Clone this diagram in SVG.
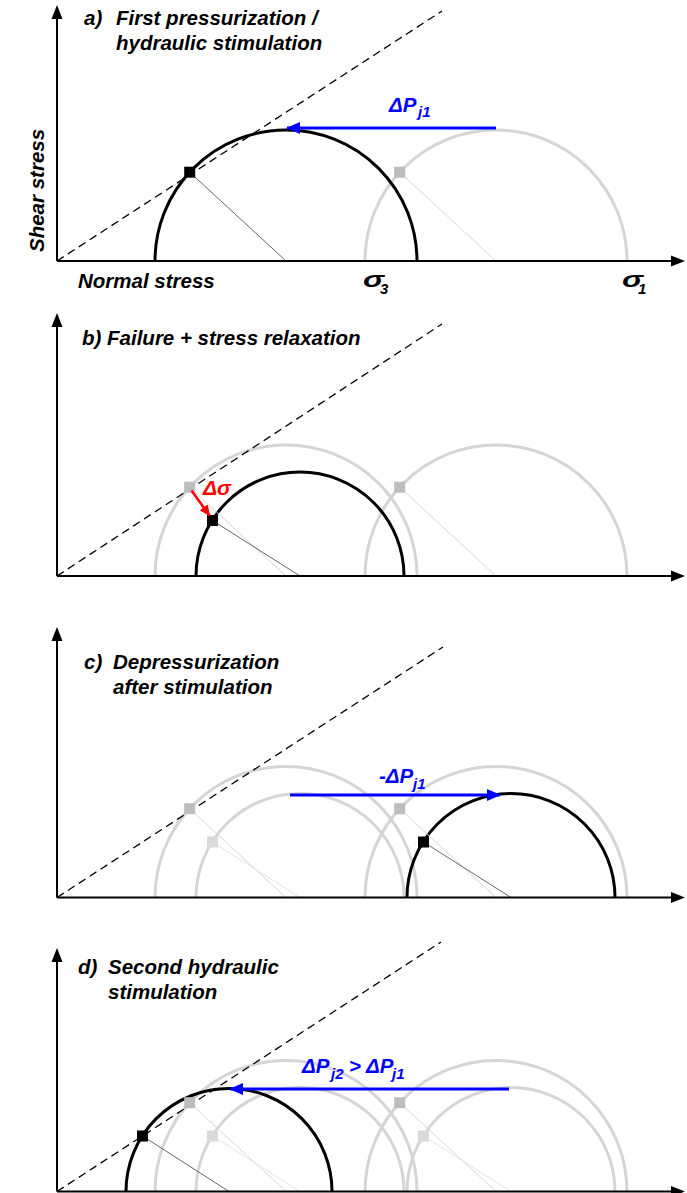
<svg xmlns="http://www.w3.org/2000/svg" width="687" height="1193" viewBox="0 0 687 1193">
<style>
text{font-family:"Liberation Sans",Arial,sans-serif;font-weight:bold;font-style:italic;fill:#000}
.t{font-size:20.5px}
.axis{stroke:#000;stroke-width:2;fill:none}
.ah{fill:#000}
.fail{stroke:#000;stroke-width:1.3;stroke-dasharray:8 5;fill:none}
.arcB{stroke:#000;stroke-width:3;fill:none}
.arcG{stroke:#D5D5D5;stroke-width:3;fill:none}
.lnB{stroke:#555;stroke-width:0.9}
.lnG{stroke:#D2D2D2;stroke-width:0.9}
.lnL{stroke:#E0E0E0;stroke-width:0.9}
.sqB{fill:#000}
.sqG{fill:#BDBDBD}
.sqL{fill:#DADADA}
.blue{stroke:#0000FF;stroke-width:3;fill:none}
.red{stroke:#FF0000;stroke-width:2.5;fill:none}
.bt{fill:#0000FF}
.rt{fill:#FF0000}
.sig{font-size:23px}
.sub{font-size:15px}
</style>
<defs>
<marker id="hb" viewBox="0 0 14 12" refX="13" refY="6" markerWidth="14" markerHeight="12" orient="auto" markerUnits="userSpaceOnUse"><path d="M0,0 L14,6 L0,12 z" fill="#0000FF"/></marker>
<marker id="hr" viewBox="0 0 11 10" refX="10" refY="5" markerWidth="11" markerHeight="10" orient="auto" markerUnits="userSpaceOnUse"><path d="M0,0 L11,5 L0,10 z" fill="#FF0000"/></marker>
</defs>

<!-- Panel a -->
<g id="panel-a">
  <path class="arcG" d="M365,261 A131,131 0 0 1 627,261"/>
  <path class="arcB" d="M155,261 A131,131 0 0 1 417,261"/>
  <line class="lnG" x1="399.7" y1="172.2" x2="496" y2="261"/>
  <line class="lnB" x1="189.7" y1="172.2" x2="286" y2="261"/>
  <line class="fail" x1="57" y1="261" x2="442" y2="11"/>
  <rect class="sqG" x="394.2" y="166.7" width="11" height="11"/>
  <rect class="sqB" x="184.2" y="166.7" width="11" height="11"/>
  <line class="axis" x1="57" y1="261" x2="57" y2="18"/>
  <polygon class="ah" points="57,5 51.5,19 62.5,19"/>
  <line class="axis" x1="57" y1="261" x2="672" y2="261"/>
  <polygon class="ah" points="685,261 671,255.5 671,266.5"/>
  <text class="t" x="84" y="25">a)</text>
  <text class="t" x="116" y="25">First pressurization /</text>
  <text class="t" x="116" y="50">hydraulic stimulation</text>
  <text class="t" transform="translate(44,252) rotate(-90)">Shear stress</text>
  <text class="t" x="78" y="288">Normal stress</text>
  <text class="sig" x="363" y="287" textLength="21" lengthAdjust="spacingAndGlyphs">σ</text>
  <text class="sub" x="380" y="294">3</text>
  <text class="sig" x="622" y="287" textLength="21" lengthAdjust="spacingAndGlyphs">σ</text>
  <text class="sub" x="638" y="294">1</text>
  <text class="t bt" x="389" y="112">ΔP</text>
  <text class="sub bt" x="418" y="117">j1</text>
</g>

<!-- Panel b -->
<g id="panel-b">
  <path class="arcG" d="M155,576 A131,131 0 0 1 417,576"/>
  <path class="arcG" d="M365,576 A131,131 0 0 1 627,576"/>
  <path class="arcB" d="M196,576 A104,104 0 0 1 404,576"/>
  <line class="lnG" x1="189.7" y1="487.2" x2="286" y2="576"/>
  <line class="lnG" x1="399.7" y1="487.2" x2="496" y2="576"/>
  <line class="lnB" x1="212.5" y1="520.5" x2="300" y2="576"/>
  <line class="fail" x1="57" y1="576" x2="442" y2="324"/>
  <rect class="sqG" x="184.2" y="481.7" width="11" height="11"/>
  <rect class="sqG" x="394.2" y="481.7" width="11" height="11"/>
  <rect class="sqB" x="207" y="515" width="11" height="11"/>
  <line class="axis" x1="57" y1="576" x2="57" y2="326"/>
  <polygon class="ah" points="57,313 51.5,327 62.5,327"/>
  <line class="axis" x1="57" y1="576" x2="672" y2="576"/>
  <polygon class="ah" points="685,576 671,570.5 671,581.5"/>
  <text class="t" x="82" y="345">b) Failure + stress relaxation</text>
  <text class="t rt" x="203" y="495" style="font-size:21px">Δσ</text>
</g>

<!-- Panel c -->
<g id="panel-c">
  <path class="arcG" d="M155,897.5 A131,131 0 0 1 417,897.5"/>
  <path class="arcG" d="M196,897.5 A104,104 0 0 1 404,897.5"/>
  <path class="arcG" d="M365,897.5 A131,131 0 0 1 627,897.5"/>
  <path class="arcB" d="M407,897.5 A104,104 0 0 1 615,897.5"/>
  <line class="lnG" x1="189.7" y1="808.7" x2="286" y2="897.5"/>
  <line class="lnL" x1="212.5" y1="842" x2="300" y2="897.5"/>
  <line class="lnG" x1="399.7" y1="808.7" x2="496" y2="897.5"/>
  <line class="lnB" x1="423.5" y1="842" x2="511" y2="897.5"/>
  <line class="fail" x1="57" y1="897.5" x2="443" y2="647"/>
  <rect class="sqG" x="184.2" y="803.2" width="11" height="11"/>
  <rect class="sqL" x="207" y="836.5" width="11" height="11"/>
  <rect class="sqG" x="394.2" y="803.2" width="11" height="11"/>
  <rect class="sqB" x="418" y="836.5" width="11" height="11"/>
  <line class="axis" x1="57" y1="897.5" x2="57" y2="640"/>
  <polygon class="ah" points="57,627 51.5,641 62.5,641"/>
  <line class="axis" x1="57" y1="897.5" x2="672" y2="897.5"/>
  <polygon class="ah" points="685,897.5 671,892 671,903"/>
  <text class="t" x="84" y="669">c)</text>
  <text class="t" x="113" y="669">Depressurization</text>
  <text class="t" x="113" y="694">after stimulation</text>
  <text class="t bt" x="379" y="783">-ΔP</text>
  <text class="sub bt" x="413" y="789">j1</text>
</g>

<!-- Panel d -->
<g id="panel-d">
  <path class="arcG" d="M155,1191.5 A131,131 0 0 1 417,1191.5"/>
  <path class="arcG" d="M196,1191.5 A104,104 0 0 1 404,1191.5"/>
  <path class="arcG" d="M365,1191.5 A131,131 0 0 1 627,1191.5"/>
  <path class="arcG" d="M407,1191.5 A104,104 0 0 1 615,1191.5"/>
  <path class="arcB" d="M126,1191.5 A103,103 0 0 1 332,1191.5"/>
  <line class="lnG" x1="189.7" y1="1102.7" x2="286" y2="1191.5"/>
  <line class="lnL" x1="212.5" y1="1136" x2="300" y2="1191.5"/>
  <line class="lnG" x1="399.7" y1="1102.7" x2="496" y2="1191.5"/>
  <line class="lnL" x1="423.5" y1="1136" x2="511" y2="1191.5"/>
  <line class="lnB" x1="142.5" y1="1136" x2="229" y2="1191.5"/>
  <line class="fail" x1="57" y1="1191.5" x2="441" y2="942"/>
  <rect class="sqG" x="184.2" y="1097.2" width="11" height="11"/>
  <rect class="sqL" x="207" y="1130.5" width="11" height="11"/>
  <rect class="sqG" x="394.2" y="1097.2" width="11" height="11"/>
  <rect class="sqL" x="418" y="1130.5" width="11" height="11"/>
  <rect class="sqB" x="137" y="1130.5" width="11" height="11"/>
  <line class="axis" x1="57" y1="1191.5" x2="57" y2="961"/>
  <polygon class="ah" points="57,948 51.5,962 62.5,962"/>
  <line class="axis" x1="57" y1="1191.5" x2="672" y2="1191.5"/>
  <polygon class="ah" points="685,1191.5 671,1186 671,1197"/>
  <text class="t" x="78" y="974">d)</text>
  <text class="t" x="108" y="974">Second hydraulic</text>
  <text class="t" x="108" y="999">stimulation</text>
  <text class="t bt" x="302" y="1073">ΔP</text>
  <text class="sub bt" x="331" y="1079">j2</text>
  <text class="t bt" x="349" y="1073">&gt; ΔP</text>
  <text class="sub bt" x="392" y="1079">j1</text>
</g>

<!-- Connectors -->
<g id="connectors">
  <line class="blue" x1="496" y1="128" x2="287" y2="128" marker-end="url(#hb)"/>
  <line class="red" x1="191.5" y1="490.5" x2="209.5" y2="515.5" marker-end="url(#hr)"/>
  <line class="blue" x1="290" y1="795" x2="500" y2="795" marker-end="url(#hb)"/>
  <line class="blue" x1="509" y1="1089" x2="230" y2="1089" marker-end="url(#hb)"/>
</g>
</svg>
